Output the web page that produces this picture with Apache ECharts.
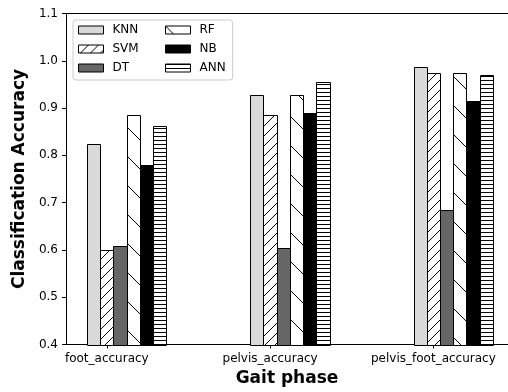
<!DOCTYPE html>
<html><head><meta charset="utf-8">
<script src="https://cdn.jsdelivr.net/npm/echarts@6/dist/echarts.min.js"></script>
<style>html,body{margin:0;padding:0;background:#fff}#c{width:508px;height:392px}</style>
</head><body><div id="c"></div>
<script>
const categories = ['foot_accuracy', 'pelvis_accuracy', 'pelvis_foot_accuracy'];
const classifiers = ['KNN', 'SVM', 'DT', 'RF', 'NB', 'ANN'];
const knn = [0.825, 0.928, 0.987];
const svm = [0.599, 0.886, 0.975];
const dt  = [0.608, 0.604, 0.684];
const rf  = [0.886, 0.928, 0.975];
const nb  = [0.779, 0.889, 0.914];
const ann = [0.863, 0.955, 0.969];
const values = [knn, svm, dt, rf, nb, ann];

const W = 0.081;
const FONT = 'DejaVu Sans';

function hatch(kind) {
  const s = kind === 'svm' ? 10 : (kind === 'rf' ? 29 : 4);
  const c = document.createElement('canvas');
  c.width = s; c.height = s;
  const g = c.getContext('2d');
  g.fillStyle = '#fff'; g.fillRect(0, 0, s, s);
  g.strokeStyle = '#000'; g.lineWidth = 1;
  g.beginPath();
  if (kind === 'svm') {
    g.moveTo(-1, s + 1); g.lineTo(s + 1, -1);
    g.moveTo(-1, 1); g.lineTo(1, -1);
    g.moveTo(s - 1, s + 1); g.lineTo(s + 1, s - 1);
  } else if (kind === 'rf') {
    g.moveTo(-1, -1); g.lineTo(s + 1, s + 1);
    g.moveTo(s - 1, -1); g.lineTo(s + 1, 1);
    g.moveTo(-1, s - 1); g.lineTo(1, s + 1);
  } else {
    g.moveTo(0, 0.5); g.lineTo(s, 0.5);
  }
  g.stroke();
  return { image: c, repeat: 'repeat' };
}

const fills = ['#d9d9d9', hatch('svm'), '#666666', hatch('rf'), '#000000', hatch('ann')];

function makeRender(j) {
  return function (params, api) {
    const x = api.value(0) + (j - 1) * W;
    const y = api.value(1);
    const p1 = api.coord([x - W / 2, y]);
    const p2 = api.coord([x + W / 2, 0.4]);
    const x1 = Math.round(p1[0]) + 0.5, x2 = Math.round(p2[0]) + 0.5;
    const y1 = Math.round(p1[1]) + 0.5, y2 = Math.round(p2[1]) + 0.5;
    return {
      type: 'rect',
      shape: { x: x1, y: y1, width: x2 - x1, height: y2 - y1 },
      style: { fill: fills[j], stroke: '#000', lineWidth: 1 }
    };
  };
}

const series = classifiers.map((name, j) => ({
  name: name,
  type: 'custom',
  renderItem: makeRender(j),
  itemStyle: { color: fills[j], borderColor: '#000', borderWidth: 1 },
  encode: { x: 0, y: 1 },
  data: categories.map((c, i) => [i, values[j][i]])
}));

function legendData(names) {
  return names.map(n => {
    const j = classifiers.indexOf(n);
    return { name: n, itemStyle: { color: fills[j], borderColor: '#000', borderWidth: 1 } };
  });
}

const legendCommon = {
  orient: 'vertical', icon: 'rect', itemWidth: 25, itemHeight: 8, itemGap: 7,
  top: 20, selectedMode: false,
  textStyle: { fontFamily: FONT, fontSize: 12, color: '#000', padding: [0, 0, 0, 4] }
};

const chart = echarts.init(document.getElementById('c'), null, { renderer: 'canvas' });
chart.setOption({
  animation: false,
  backgroundColor: '#fff',
  grid: { left: 66, right: 0, top: 13.5, bottom: 47.5, outerBoundsMode: 'none', show: false },
  legend: [
    Object.assign({}, legendCommon, {
      left: 73, data: legendData(['KNN', 'SVM', 'DT']),
      padding: [4, 94, 6, 5], borderColor: '#cccccc', borderWidth: 1, borderRadius: 3,
      backgroundColor: 'rgba(255,255,255,0.8)'
    }),
    Object.assign({}, legendCommon, {
      left: 160, data: legendData(['RF', 'NB', 'ANN']), padding: [4, 5, 6, 5]
    })
  ],
  xAxis: [{
    type: 'value', min: -0.25, max: 2.457,
    name: 'Gait phase', nameLocation: 'middle', nameGap: 26,
    nameTextStyle: { fontFamily: FONT, fontSize: 17, fontWeight: 'bold', color: '#000' },
    axisLine: { show: true, onZero: false, lineStyle: { color: '#000', width: 1 } },
    axisTick: { show: true, length: 4, lineStyle: { color: '#000' }, customValues: [0, 1, 2] },
    axisLabel: {
      customValues: [0, 1, 2], margin: 8,
      fontFamily: FONT, fontSize: 12, color: '#000',
      formatter: v => categories[Math.round(v)]
    },
    splitLine: { show: false }
  }, {
    type: 'value', position: 'top', min: -0.25, max: 2.457,
    axisLine: { show: true, onZero: false, lineStyle: { color: '#000', width: 1 } },
    axisTick: { show: false }, axisLabel: { show: false }, splitLine: { show: false }
  }],
  yAxis: {
    type: 'value', min: 0.4, max: 1.1, interval: 0.1,
    name: 'Classification Accuracy', nameLocation: 'middle', nameGap: 34,
    nameTextStyle: { fontFamily: FONT, fontSize: 17, fontWeight: 'bold', color: '#000' },
    axisLine: { show: true, onZero: false, lineStyle: { color: '#000', width: 1 } },
    axisTick: { show: true, length: 4, lineStyle: { color: '#000' } },
    axisLabel: { margin: 8, fontFamily: FONT, fontSize: 12, color: '#000', formatter: v => v.toFixed(1) },
    splitLine: { show: false }
  },
  series: series
});
</script>
</body></html>
